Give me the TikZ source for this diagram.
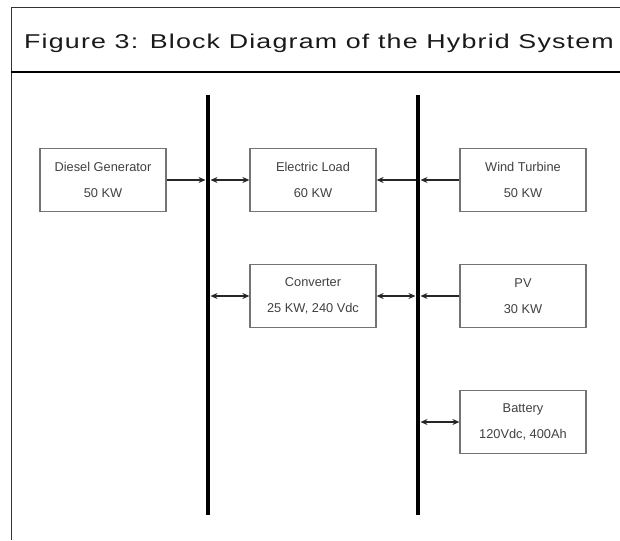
\documentclass[tikz,border=0pt]{standalone}
\usepackage{fontspec}
\setmainfont{Liberation Sans}
\newfontfamily\titlefont[FakeStretch=1.34,LetterSpace=6]{Liberation Sans}
\usetikzlibrary{arrows.meta}
\colorlet{block border color}{black!55}
\colorlet{block text color}{black!75}
\tikzset{
    x={1pt},
    y={-1pt},
    frame line/.style={
        draw=black!80,
        line width={1pt},
    },
    title rule/.style={
        draw=black,
        line width={1.6pt},
    },
    title/.style={
        font={\titlefont\fontsize{20}{23}\selectfont},
        text=black!90,
        inner sep=0pt,
    },
    bus/.style={
        draw=black,
        line width={4.5pt},
    },
    block/.style={
        rectangle,
        draw=block border color,
        line width={1.2pt},
        minimum width={126},
        minimum height={63},
        align=center,
        inner sep=0pt,
        font={\fontsize{12.8}{15}\selectfont\color{block text color}},
    },
    flow/.style={
        draw=black!85,
        line width={1.1pt},
        -{Stealth[length=7pt,width=6pt]},
    },
    two way/.style={
        flow,
        {Stealth[length=7pt,width=6pt]}-{Stealth[length=7pt,width=6pt]},
    },
}

\begin{document}
\begin{tikzpicture}
\useasboundingbox (0,0) rectangle (620,540);
% frame
\draw[frame line] (620,8) -- (11,8) -- (11,540);
\draw[title rule] (11,72) -- (620,72);
\node[title] (title) at (319,43) {Figure 3: Block Diagram of the Hybrid System};
% buses
\coordinate (bus A) at (208,95);
\coordinate (bus A end) at (208,515);
\coordinate (bus B) at (418,95);
\coordinate (bus B end) at (418,515);
\draw[bus] (bus A) -- (bus A end);
\draw[bus] (bus B) -- (bus B end);
% blocks
\node[block] (diesel) at (103,180) {Diesel Generator\\[11pt]50 KW};
\node[block] (load) at (313,180) {Electric Load\\[11pt]60 KW};
\node[block] (wind) at (523,180) {Wind Turbine\\[11pt]50 KW};
\node[block] (converter) at (313,296) {Converter\\[11pt]25 KW, 240 Vdc};
\node[block] (pv) at (523,296) {PV\\[11pt]30 KW};
\node[block] (battery) at (523,422) {Battery\\[11pt]120Vdc, 400Ah};
% connections
\draw[flow, shorten >=2.5pt] (diesel) -- (diesel -| bus A);
\draw[two way, shorten <=2.5pt] (load -| bus A) -- (load);
\draw[flow, shorten >=2.5pt] (wind) -- (wind -| bus B);
\draw[flow, shorten <=2.5pt] (load -| bus B) -- (load);
\draw[two way, shorten <=2.5pt] (converter -| bus A) -- (converter);
\draw[two way, shorten >=2.5pt] (converter) -- (converter -| bus B);
\draw[flow, shorten >=2.5pt] (pv) -- (pv -| bus B);
\draw[two way, shorten <=2.5pt] (battery -| bus B) -- (battery);
\end{tikzpicture}
\end{document}
